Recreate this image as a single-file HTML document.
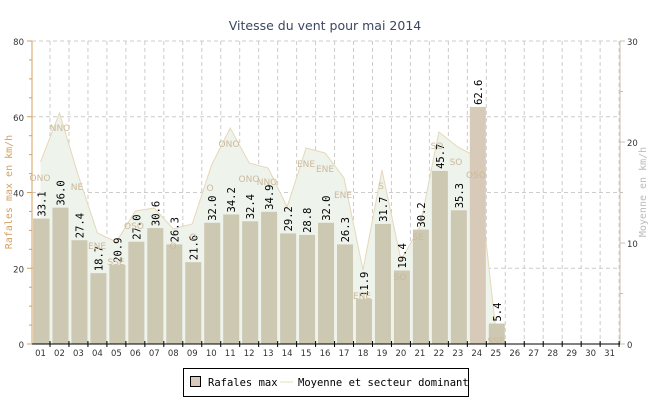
<!DOCTYPE html>
<html><head><meta charset="utf-8"><style>
body{margin:0;background:#fff;width:650px;height:400px;overflow:hidden}
svg{display:block}
</style></head><body>
<svg id="c" width="650" height="400" xmlns="http://www.w3.org/2000/svg" font-family="DejaVu Sans, Liberation Sans, sans-serif"></svg>
<script>
const s=document.getElementById('c');let h='';
const L=32,R=620,T=41,B=344,step=18.97,c0=40.5;
const Y=v=>B-v*(B-T)/80;
h+=`<text x="325" y="30" text-anchor="middle" font-size="12.5" fill="#3b4660">Vitesse du vent pour mai 2014</text>`;
for(let v=20;v<=80;v+=20)h+=`<line x1="${L}" x2="${R}" y1="${Y(v)}" y2="${Y(v)}" stroke="#ccc" stroke-dasharray="4,3"/>`;
for(let i=0;i<31;i++){const x=c0+i*step+9.5;h+=`<line x1="${x}" x2="${x}" y1="${T}" y2="${B}" stroke="#ccc" stroke-dasharray="4,3"/>`;}
const ay=[162,113,176,233,242,211,208,229,224,166,128,163,168,207,148,153,178,270,170,260,227,132,147,157,330];
let p=`M${c0} ${B} `;ay.forEach((y,i)=>p+=`L${c0+i*step} ${y} `);p+=`L${c0+24*step+5} ${B} Z`;
h+=`<path d="${p}" fill="#eef3ec" stroke="none"/>`;
let pl='M';ay.forEach((y,i)=>pl+=`${c0+i*step},${y} `);
h+=`<polyline points="${pl.slice(1)}" fill="none" stroke="#e6d8b8" stroke-width="1"/>`;
const v=[33.1,36.0,27.4,18.7,20.9,27.0,30.6,26.3,21.6,32.0,34.2,32.4,34.9,29.2,28.8,32.0,26.3,11.9,31.7,19.4,30.2,45.7,35.3,62.6,5.4];
h+=`<rect x="33" y="${Y(33.1)}" width="8" height="${B-Y(33.1)}" fill="#d8cbb8"/>`;
v.forEach((d,i)=>{const cx=c0+i*step+1;const col=i==23?'#d8cab8':'#ccc8b2';
h+=`<rect x="${cx-8}" y="${Y(d)}" width="16" height="${B-Y(d)}" fill="${col}"/>`;
h+=`<text transform="translate(${cx+4},${Y(d)-2}) rotate(-90)" font-size="10.5" font-family="DejaVu Sans Mono, Liberation Mono, monospace" fill="#000">${d.toFixed(1)}</text>`;});
const dl=[[40,181,'ONO'],[60,131,'NNO'],[77,190,'NE'],[97,249,'ENE'],[116,265,'SSE'],[134,229,'OSO'],[173,249,'O'],[193,240,'O'],[210,191,'O'],[229,147,'ONO'],[249,182,'ONO'],[267,185,'NNO'],[306,167,'ENE'],[325,172,'ENE'],[343,198,'ENE'],[362,299,'ENE'],[381,189,'S'],[400,280,'SO'],[418,240,'SE'],[437,149,'SO'],[456,165,'SO'],[476,178,'OSO'],[496,344,'SSE']];
dl.forEach(([x,y,t])=>h+=`<text x="${x}" y="${y}" text-anchor="middle" font-size="9" fill="#cdb99a">${t}</text>`);
h+=`<line x1="${L}" x2="${L}" y1="${T}" y2="${B}" stroke="#d4a060"/>`;
h+=`<line x1="${R}" x2="${R}" y1="${T}" y2="${B}" stroke="#c8c0b0"/>`;
h+=`<line x1="${L}" x2="${R}" y1="${B}" y2="${B}" stroke="#000"/>`;
for(let v2=0;v2<=80;v2+=5){const y=Y(v2);h+=`<line x1="${L-(v2%20?3:5)}" x2="${L}" y1="${y}" y2="${y}" stroke="#d4a060"/>`;}
for(let v2=0;v2<=80;v2+=20)h+=`<text x="${L-8}" y="${Y(v2)+4}" text-anchor="end" font-size="8.5" fill="#333">${v2}</text>`;
for(let r=0;r<=30;r+=5){const y=B-r*(B-T)/30;h+=`<line x1="${R}" x2="${R+(r%10?3:5)}" y1="${y}" y2="${y}" stroke="#c8c0b0"/>`;}
for(let r=0;r<=30;r+=10){const y=B-r*(B-T)/30;h+=`<text x="${R+7}" y="${y+4}" font-size="8.5" fill="#333">${r}</text>`;}
for(let i=0;i<31;i++){const x=c0+i*step;h+=`<line x1="${x+9.5}" x2="${x+9.5}" y1="${B-3}" y2="${B+3}" stroke="#000"/>`;
h+=`<text x="${x}" y="${B+12}" text-anchor="middle" font-size="8.5" fill="#333">${String(i+1).padStart(2,'0')}</text>`;}
h+=`<text transform="translate(12,192) rotate(-90)" text-anchor="middle" font-size="10" fill="#d4a060" font-family="DejaVu Sans Mono, monospace">Rafales max en km/h</text>`;
h+=`<text transform="translate(646,192) rotate(-90)" text-anchor="middle" font-size="10" fill="#bbb" font-family="DejaVu Sans Mono, monospace">Moyenne en km/h</text>`;
h+=`<rect x="183.5" y="368.5" width="285" height="28" fill="#fff" stroke="#000"/>`;
h+=`<rect x="190.5" y="376.5" width="10" height="10" fill="#d8cab8" stroke="#000"/>`;
h+=`<text x="208" y="386" font-size="10.5" font-family="DejaVu Sans Mono, monospace" fill="#000">Rafales max</text>`;
h+=`<line x1="280" x2="293" y1="382" y2="382" stroke="#e6dcc0"/>`;
h+=`<text x="298" y="386" font-size="10.5" font-family="DejaVu Sans Mono, monospace" fill="#000">Moyenne et secteur dominant</text>`;
s.innerHTML=h;
</script>
</body></html>
